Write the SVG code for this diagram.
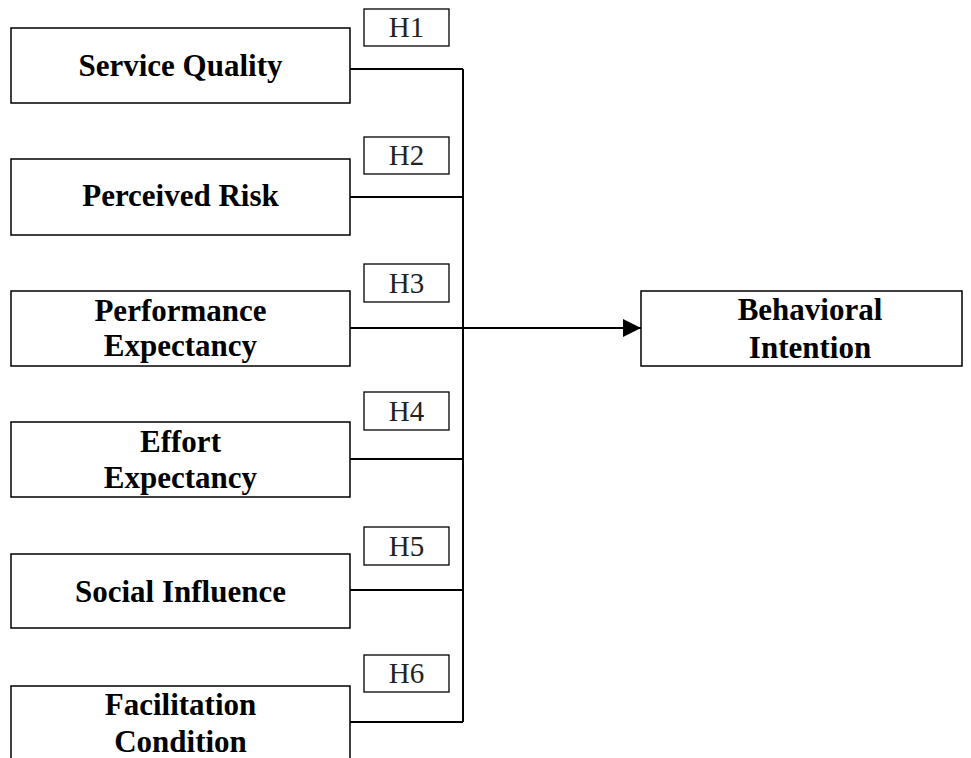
<svg xmlns="http://www.w3.org/2000/svg" width="971" height="758" viewBox="0 0 971 758">
  <style>
    .box { fill: #fff; stroke: #000; stroke-width: 1.5; }
    .hbox { fill: #fff; stroke: #000; stroke-width: 1.3; }
    .lbl { font-family: "Liberation Serif", "Times New Roman", serif; font-weight: bold; font-size: 31px; fill: #000; text-anchor: middle; }
    .hyp { font-family: "Liberation Serif", "Times New Roman", serif; font-size: 29px; fill: #222; text-anchor: middle; }
    .wire { fill: none; stroke: #000; stroke-width: 2; }
  </style>
  <defs>
    <marker id="arrow" markerUnits="userSpaceOnUse" markerWidth="20" markerHeight="18" refX="18" refY="9" orient="auto">
      <path d="M0,0 L18,9 L0,18 Z" fill="#000"/>
    </marker>
  </defs>
  <rect width="971" height="758" fill="#fff"/>

  <!-- connectors: each construct feeds a shared bus line leading to the outcome -->
  <g id="connectors">
    <line class="wire" x1="463" y1="69" x2="463" y2="722" stroke-width="1.5"/>
    <line class="wire" x1="350" y1="69" x2="463" y2="69"/>
    <line class="wire" x1="350" y1="197" x2="463" y2="197"/>
    <line class="wire" x1="350" y1="459" x2="463" y2="459"/>
    <line class="wire" x1="350" y1="590" x2="463" y2="590"/>
    <line class="wire" x1="350" y1="722" x2="463" y2="722"/>
    <line class="wire" x1="350" y1="328" x2="641" y2="328" marker-end="url(#arrow)"/>
  </g>

  <!-- hypothesis labels -->
  <g id="h1"><rect class="hbox" x="364" y="9" width="85" height="37"/><text class="hyp" x="406.5" y="37">H1</text></g>
  <g id="h2"><rect class="hbox" x="364" y="137" width="85" height="37"/><text class="hyp" x="406.5" y="165">H2</text></g>
  <g id="h3"><rect class="hbox" x="364" y="264" width="85" height="38"/><text class="hyp" x="406.5" y="293">H3</text></g>
  <g id="h4"><rect class="hbox" x="364" y="392" width="85" height="38"/><text class="hyp" x="406.5" y="421">H4</text></g>
  <g id="h5"><rect class="hbox" x="364" y="527" width="85" height="38"/><text class="hyp" x="406.5" y="556">H5</text></g>
  <g id="h6"><rect class="hbox" x="364" y="655" width="85" height="37"/><text class="hyp" x="406.5" y="683">H6</text></g>

  <!-- constructs -->
  <g id="service-quality">
    <rect class="box" x="11" y="28" width="339" height="75"/>
    <text class="lbl" x="180.5" y="76">Service Quality</text>
  </g>
  <g id="perceived-risk">
    <rect class="box" x="11" y="159" width="339" height="76"/>
    <text class="lbl" x="180.5" y="206">Perceived Risk</text>
  </g>
  <g id="performance-expectancy">
    <rect class="box" x="11" y="291" width="339" height="75"/>
    <text class="lbl" x="180.5" y="321">Performance</text>
    <text class="lbl" x="180.5" y="356">Expectancy</text>
  </g>
  <g id="effort-expectancy">
    <rect class="box" x="11" y="422" width="339" height="75"/>
    <text class="lbl" x="180.5" y="452">Effort</text>
    <text class="lbl" x="180.5" y="488">Expectancy</text>
  </g>
  <g id="social-influence">
    <rect class="box" x="11" y="554" width="339" height="74"/>
    <text class="lbl" x="180.5" y="602">Social Influence</text>
  </g>
  <g id="facilitation-condition">
    <rect class="box" x="11" y="686" width="339" height="80"/>
    <text class="lbl" x="180.5" y="715">Facilitation</text>
    <text class="lbl" x="180.5" y="752">Condition</text>
  </g>
  <g id="behavioral-intention">
    <rect class="box" x="641" y="291" width="321" height="75"/>
    <text class="lbl" x="810" y="320">Behavioral</text>
    <text class="lbl" x="810" y="358">Intention</text>
  </g>
</svg>
